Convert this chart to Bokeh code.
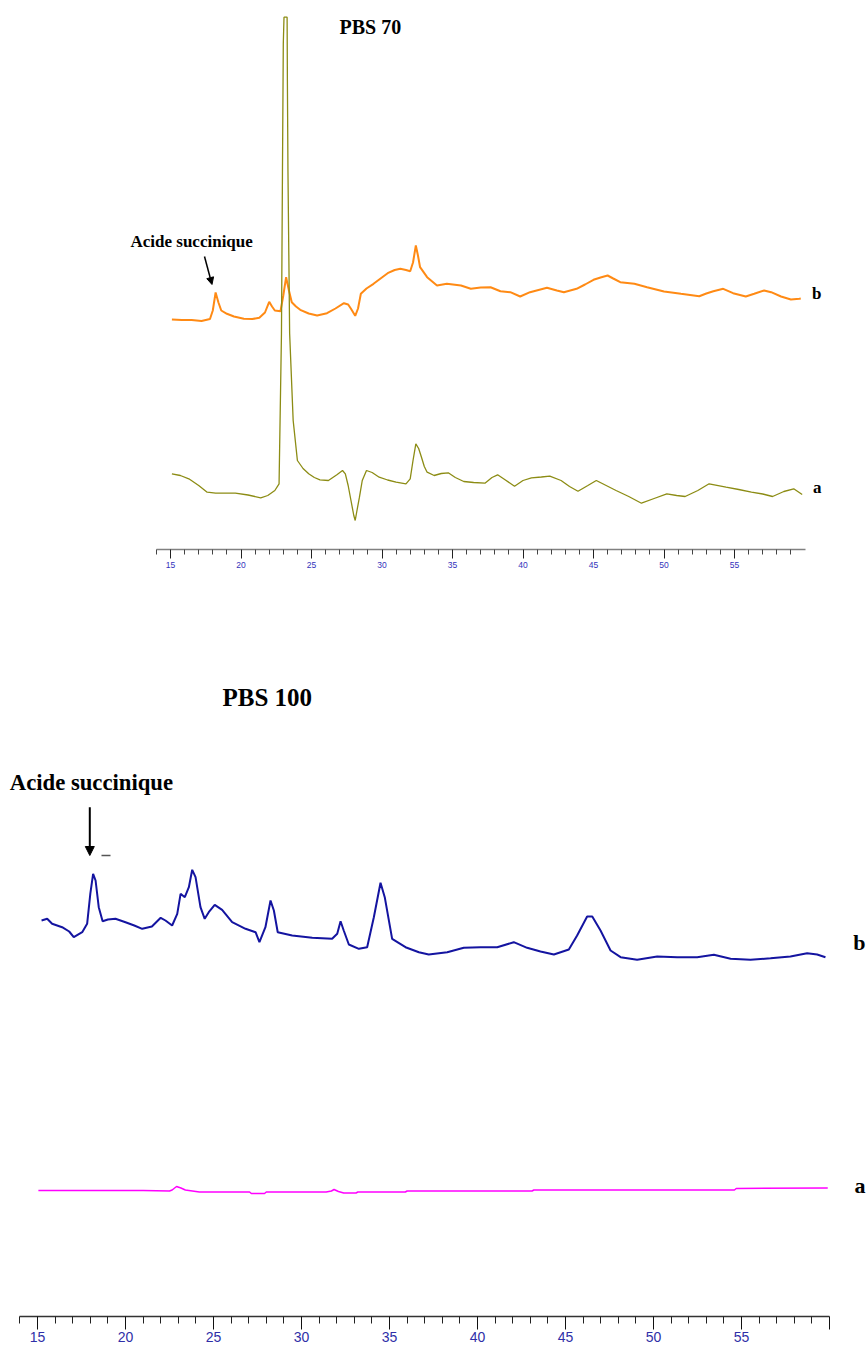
from bokeh.plotting import figure
from bokeh.layouts import column
from bokeh.models import Range1d, FixedTicker, Arrow, NormalHead, Label
from bokeh.embed import file_html
from bokeh.resources import INLINE

# ---------------- DATA (2-theta in degrees, intensity in arbitrary units) ----------------
# PBS 70, curve b (orange)
pbs70_b_2theta = [15.1, 15.8, 16.5, 17.2, 17.8, 18.0, 18.2, 18.4, 18.6, 19.0, 19.5, 20.2, 20.8,
                  21.3, 21.7, 22.0, 22.2, 22.4, 22.8, 23.0, 23.2, 23.4, 23.6, 23.9, 24.2, 24.8,
                  25.4, 26.1, 26.7, 27.3, 27.6, 27.8, 28.1, 28.3, 28.5, 28.9, 29.4, 29.9, 30.4,
                  30.9, 31.3, 31.7, 32.0, 32.2, 32.4, 32.55, 32.7, 33.2, 33.9, 34.6, 35.6, 36.3,
                  37.0, 37.7, 38.4, 39.1, 39.8, 40.5, 41.7, 42.4, 42.9, 43.8, 44.4, 45.0, 45.5,
                  46.0, 46.4, 46.9, 47.9, 48.8, 50.0, 51.2, 52.5, 53.0, 53.5, 54.2, 54.9, 55.8,
                  56.4, 57.1, 57.6, 58.3, 59.0, 59.6, 59.7]
pbs70_b_int = [1, 0.5, 0.5, -0.5, 1.5, 10, 28, 18, 10, 6.7, 4, 1.7, 1.5,
               2.7, 8, 18.7, 14, 10, 9.3, 25, 43.3, 30, 18.3, 14, 10.7, 7,
               5, 7.3, 12, 17.3, 16, 11.7, 4.7, 12, 26.7, 32, 36.7, 42, 47.3,
               50.5, 51.7, 50.5, 49.3, 58, 75, 65, 53.3, 43.3, 35, 36.7, 35, 31.7,
               33, 33.3, 29.3, 28.3, 24, 28.3, 32.7, 30, 28.3, 31.7, 36, 40.7, 43,
               45, 42, 38.3, 36.7, 33.3, 29, 26.7, 24.3, 27, 29.3, 31.7, 27.3, 24,
               26.7, 30, 28.3, 24, 21, 21.7, 22]

# PBS 70, curve a (olive)
pbs70_a_2theta = [15.1, 15.7, 16.3, 17.0, 17.6, 18.2, 18.7, 19.6, 20.5, 21.4, 21.9, 22.4, 22.7,
                  22.87, 22.94, 23.0, 23.05, 23.27, 23.29, 23.33, 23.45, 23.7, 24.0, 24.4, 24.8,
                  25.2, 25.6, 26.2, 26.8, 27.2, 27.4, 27.6, 27.8, 28.0, 28.1, 28.2, 28.4, 28.6,
                  28.9, 29.3, 29.8, 30.4, 31.0, 31.7, 32.0, 32.2, 32.4, 32.6, 32.8, 33.0, 33.2,
                  33.7, 34.2, 34.7, 35.2, 35.8, 36.5, 37.3, 37.8, 38.2, 38.7, 39.4, 40.0, 40.6,
                  41.3, 41.9, 42.7, 43.3, 43.9, 44.6, 45.2, 45.9, 46.6, 47.5, 48.4, 49.3, 50.2,
                  50.9, 51.5, 52.4, 53.2, 54.4, 55.3, 56.2, 57.0, 57.7, 58.5, 59.2, 59.8]
pbs70_a_int = [46.7, 45, 41.7, 35, 28.3, 27.3, 27.3, 27.3, 25.5, 22.7, 25, 30, 36.7,
               187, 347, 477, 503.3, 503.3, 440, 350, 187, 100, 60, 52, 46.7,
               43, 40.7, 40, 45.7, 50, 46.7, 35, 20, 5, 0, 8, 23.3, 40,
               50, 48, 43.3, 40.5, 38.3, 36.7, 41.7, 60, 76.7, 72, 63.3, 54, 48.3,
               45, 47, 47.7, 43, 39, 38, 37.3, 43, 45.7, 41, 34.3, 40, 42.7,
               43.5, 44.3, 40, 34, 29.3, 35, 40, 35, 30, 24, 17.3, 22, 26.7,
               25, 24, 30, 36.7, 33.3, 31, 28.3, 26.5, 24, 29, 31.7, 26]

# PBS 100, curve b (blue)
pbs100_b_2theta = [15.23, 15.55, 15.83, 16.4, 16.8, 17.06, 17.54, 17.82, 18.0, 18.16, 18.3, 18.48,
                   18.7, 19.0, 19.43, 20.0, 20.5, 20.95, 21.5, 22.0, 22.27, 22.65, 22.94, 23.13,
                   23.37, 23.6, 23.79, 23.98, 24.26, 24.5, 24.73, 25.07, 25.49, 26.06, 26.82,
                   27.39, 27.61, 27.95, 28.24, 28.43, 28.65, 29.47, 30.61, 31.74, 32.03, 32.22,
                   32.4, 32.69, 33.26, 33.73, 34.11, 34.49, 34.73, 35.15, 35.91, 36.67, 37.23,
                   38.28, 39.22, 40.17, 41.12, 42.06, 42.82, 43.58, 44.34, 45.19, 45.66, 46.23,
                   46.52, 46.99, 47.56, 48.13, 49.07, 50.21, 51.35, 52.48, 53.43, 54.38, 55.51,
                   56.65, 57.78, 58.73, 59.3, 59.77]
pbs100_b_int = [40, 41.7, 36.7, 33.3, 29, 23.3, 28.3, 36.7, 66.7, 86.7, 80, 53.3,
                39.3, 41, 41.7, 38.3, 35, 31.7, 34, 42.7, 40, 35, 46.7, 66.7,
                63.3, 73.3, 90.7, 83.3, 53.3, 41.7, 48.3, 55.7, 50.7, 38.3, 31.7,
                28.3, 18.3, 33.3, 60, 50, 28.3, 25, 22.7, 21.7, 26.7, 39.3,
                30, 16, 11.7, 13.3, 43.3, 77.7, 63.3, 21.7, 13.3, 8.3, 6,
                8.3, 12.7, 13.3, 13.3, 18.3, 12.7, 9, 6, 11, 25, 44,
                44, 30, 10, 3.3, 0.7, 4, 3.3, 3.3, 5.7, 1.7, 0.7,
                2.3, 4, 7.3, 6, 3.3]

# PBS 100, curve a (magenta)
pbs100_a_2theta = [15.05, 17.0, 19.0, 21.0, 22.5, 22.65, 22.9, 23.15, 23.4, 23.8, 24.2, 27.05,
                   27.15, 27.9, 28.0, 31.4, 31.7, 31.85, 32.1, 32.4, 33.1, 33.2, 35.9, 36.0,
                   43.1, 43.2, 54.6, 54.7, 59.9]
pbs100_a_int = [2, 2, 2, 2, 1.5, 2.5, 6, 4.5, 2.5, 1.5, 0.5, 0.5,
                -1, -1, 0.5, 0.5, 1.5, 3, 1, -0.5, -0.5, 0.5, 0.5, 1.5,
                1.5, 2.5, 2.5, 4, 4.5]

top_major_ticks = [15, 20, 25, 30, 35, 40, 45, 50, 55]
bottom_major_ticks = [15, 20, 25, 30, 35, 40, 45, 50, 55, 60]
minor_ticks = [t for t in range(14, 60) if t % 5 != 0]

# ---------------- LAYOUT / STYLE ----------------
SERIF = "Liberation Serif"
SANS = "Liberation Sans"
ORIGIN = 0            # page offset of the layout's top-left corner
PAGE_W = 866

# top panel geometry (page pixels)
T_PX15, T_SCALE = 170.0, 14.1        # pixel of 15 deg, pixels per degree
T_TOP, T_AXIS = ORIGIN, 549
T_H = 600
# bottom panel geometry
B_PX15, B_SCALE = 37.0, 17.6
B_TOP = ORIGIN + T_H
B_AXIS = 1316
B_H = 1347 - B_TOP


def tx(px):
    return 15 + (px - T_PX15) / T_SCALE


def bx(px):
    return 15 + (px - B_PX15) / B_SCALE


ORANGE_BASE = 320
OLIVE_BASE = 520
BLUE_BASE = 960
MAGENTA_BASE = 1192


def style(p):
    p.xgrid.visible = False
    p.ygrid.visible = False
    p.outline_line_color = None
    p.background_fill_color = "white"
    p.border_fill_color = "white"


def lab(p, x, y, text, size, align="left", baseline="alphabetic"):
    p.add_layout(Label(x=x, y=y, text=text, text_font=SERIF, text_font_style="bold",
                       text_font_size=size, text_align=align, text_baseline=baseline,
                       text_color="black"))


# ---------- top figure: PBS 70 ----------
p1 = figure(width=PAGE_W, height=T_H, output_backend="svg", toolbar_location=None,
            x_range=Range1d(tx(ORIGIN), tx(ORIGIN + PAGE_W)), y_range=Range1d(-T_AXIS, -T_TOP),
            y_axis_location=None, min_border_left=0, min_border_right=0,
            min_border_top=0, min_border_bottom=T_H - (T_AXIS - T_TOP))
style(p1)
p1.line(pbs70_b_2theta, [i - ORANGE_BASE for i in pbs70_b_int], line_color="#ff8a14", line_width=2.0)
p1.line(pbs70_a_2theta, [i - OLIVE_BASE for i in pbs70_a_int], line_color="#8c8c14", line_width=1.3)

ax1 = p1.xaxis[0]
ax1.ticker = FixedTicker(ticks=top_major_ticks, minor_ticks=minor_ticks)
ax1.bounds = (14, 60)
ax1.axis_line_color = "#808080"
ax1.axis_line_width = 1.5
ax1.major_tick_line_color = "#222222"
ax1.minor_tick_line_color = "#444444"
ax1.major_tick_in = 0
ax1.major_tick_out = 9
ax1.minor_tick_in = 0
ax1.minor_tick_out = 5
ax1.major_label_standoff = 3
ax1.major_label_text_font = SANS
ax1.major_label_text_font_size = "8.5px"
ax1.major_label_text_color = "#3333bb"

lab(p1, tx(339), -26, "PBS 70", "20px")
lab(p1, tx(130), -240.7, "Acide succinique", "17px")
lab(p1, tx(821), -293, "b", "17px", align="right", baseline="middle")
lab(p1, tx(821), -487, "a", "17px", align="right", baseline="middle")
p1.add_layout(Arrow(end=NormalHead(size=7, fill_color="black", line_color="black"),
                    x_start=tx(204), y_start=-256, x_end=tx(211.5), y_end=-284,
                    line_width=1.5, line_color="black"))

# ---------- bottom figure: PBS 100 ----------
p2 = figure(width=PAGE_W, height=B_H, output_backend="svg", toolbar_location=None,
            x_range=Range1d(bx(ORIGIN), bx(ORIGIN + PAGE_W)), y_range=Range1d(-B_AXIS, -B_TOP),
            y_axis_location=None, min_border_left=0, min_border_right=0,
            min_border_top=0, min_border_bottom=B_H - (B_AXIS - B_TOP))
style(p2)
p2.line(pbs100_b_2theta, [i - BLUE_BASE for i in pbs100_b_int], line_color="#1414a0", line_width=2.0)
p2.line(pbs100_a_2theta, [i - MAGENTA_BASE for i in pbs100_a_int], line_color="#ff00ff", line_width=1.5)

ax2 = p2.xaxis[0]
ax2.ticker = FixedTicker(ticks=bottom_major_ticks, minor_ticks=minor_ticks)
ax2.bounds = (14, 60)
ax2.major_label_overrides = {60: ""}
ax2.axis_line_color = "#333333"
ax2.axis_line_width = 1.5
ax2.major_tick_line_color = "#111111"
ax2.minor_tick_line_color = "#222222"
ax2.major_tick_in = 0
ax2.major_tick_out = 13
ax2.minor_tick_in = 0
ax2.minor_tick_out = 7
ax2.major_label_standoff = 2
ax2.major_label_text_font = SANS
ax2.major_label_text_font_size = "14px"
ax2.major_label_text_color = "#2f2fa8"

lab(p2, bx(222), -697, "PBS 100", "25px")
lab(p2, bx(9.3), -781.7, "Acide succinique", "22.7px")
lab(p2, bx(865), -942, "b", "22px", align="right", baseline="middle")
lab(p2, bx(865), -1185, "a", "22px", align="right", baseline="middle")
p2.add_layout(Arrow(end=NormalHead(size=9, fill_color="black", line_color="black"),
                    x_start=bx(89.3), y_start=-806.7, x_end=bx(89.3), y_end=-855,
                    line_width=2, line_color="black"))
p2.add_layout(Arrow(end=None, x_start=bx(101), y_start=-855, x_end=bx(110), y_end=-855,
                    line_width=1.5, line_color="#555555"))

layout = column(p1, p2, spacing=0)
open("out.html", "w").write(file_html(layout, INLINE))
